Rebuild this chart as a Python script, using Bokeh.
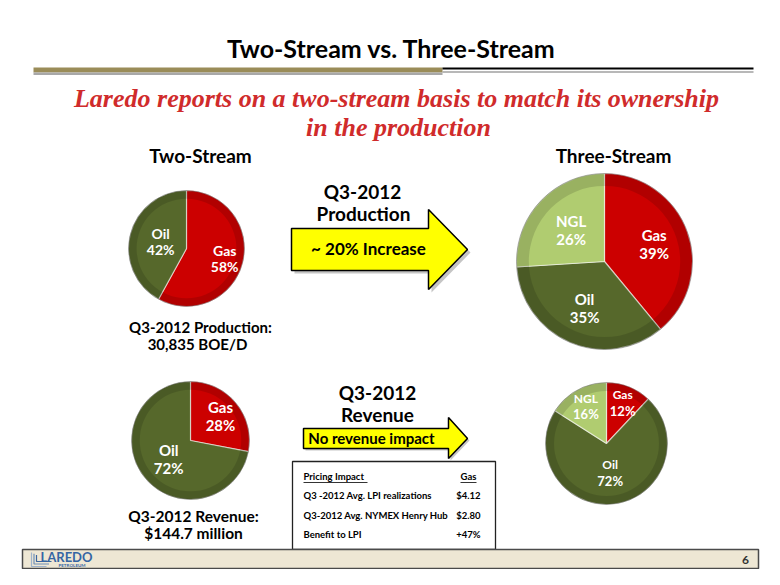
import numpy as np
from bokeh.plotting import figure
from bokeh.models import Range1d
from bokeh.embed import file_html
from bokeh.resources import INLINE
from bokeh.core.properties import value

# ---------------- data ----------------
prod_two_labels = ["Gas", "Oil"]
prod_two_values = [58, 42]
prod_three_labels = ["Gas", "Oil", "NGL"]
prod_three_values = [39, 35, 26]
rev_two_labels = ["Gas", "Oil"]
rev_two_values = [28, 72]
rev_three_labels = ["Gas", "Oil", "NGL"]
rev_three_values = [12, 72, 16]

table_header = ["Pricing Impact", "Gas"]
table_rows = ["Q3 -2012 Avg. LPI realizations", "Q3-2012 Avg. NYMEX Henry Hub", "Benefit to LPI"]
table_values = ["$4.12", "$2.80", "+47%"]

COLORS = {"Gas": "#cc0000", "Oil": "#56682b", "NGL": "#b0cc70"}
SANS = value("Lato")
SERIF = value("Liberation Serif")

W, H = 764, 569
p = figure(width=W, height=H, x_range=Range1d(0, W), y_range=Range1d(0, H),
           output_backend="svg", toolbar_location=None, min_border=0)
p.axis.visible = False
p.grid.visible = False
p.outline_line_color = None
p.background_fill_color = "white"
p.border_fill_color = "white"


def Y(sy):
    return H - sy


def txt(x, y, s, size, color="black", align="center", baseline="middle",
        font=SANS, style="bold"):
    p.text(x=[x], y=[Y(y)], text=[s], text_font=font, text_font_size=f"{size}px",
           text_font_style=style, text_color=color, text_align=align,
           text_baseline=baseline)


# ---------------- title & separator ----------------
txt(391, 47, "Two-Stream vs. Three-Stream", 25, baseline="alphabetic")
p.quad(left=33, right=442, bottom=Y(72), top=Y(67), fill_color="#9a8c58", line_color=None)
p.quad(left=33, right=442, bottom=Y(74.5), top=Y(72), fill_color="#a8a8a8", line_color=None)
p.segment(x0=442, y0=Y(68), x1=753, y1=Y(68), line_color="black", line_width=2)
p.segment(x0=442, y0=Y(71.5), x1=753, y1=Y(71.5), line_color="#a0a0a0", line_width=1.5)
txt(396, 98, "Laredo reports on a two-stream basis to match its ownership", 26,
    color="#d02b2b", baseline="alphabetic", font=SERIF, style="bold italic")
txt(398, 127, "in the production", 26, color="#d02b2b", baseline="alphabetic",
    font=SERIF, style="bold italic")


# ---------------- pies ----------------
def pie(cx, cy, r, labels, vals, name_size, pct_size, lab_r, gap):
    v = np.array(vals, dtype=float)
    frac = v / v.sum()
    cum = np.concatenate([[0.0], np.cumsum(frac)])
    start = np.pi / 2 - 2 * np.pi * cum[:-1]
    end = np.pi / 2 - 2 * np.pi * cum[1:]
    colors = [COLORS[l] for l in labels]
    p.wedge(x=cx, y=Y(cy), radius=r, start_angle=start.tolist(), end_angle=end.tolist(),
            direction="clock", fill_color=colors, line_color="white", line_alpha=0.55,
            line_width=1.2)
    p.annulus(x=cx, y=Y(cy), inner_radius=0.86 * r, outer_radius=r,
              fill_color="black", fill_alpha=0.13, line_color=None)
    p.circle(x=cx, y=Y(cy), radius=r, fill_color=None, line_color="#333333",
             line_alpha=0.35, line_width=1)
    mid = (start + end) / 2
    lr = np.array(lab_r) * r
    lx = cx + lr * np.cos(mid)
    ly = Y(cy) + lr * np.sin(mid)
    names = list(labels)
    pcts = [f"{int(x)}%" for x in vals]
    p.text(x=lx.tolist(), y=(ly + gap).tolist(), text=names, text_font=SANS,
           text_font_size=f"{name_size}px", text_font_style="bold", text_color="white",
           text_align="center", text_baseline="middle")
    p.text(x=lx.tolist(), y=(ly - gap).tolist(), text=pcts, text_font=SANS,
           text_font_size=f"{pct_size}px", text_font_style="bold", text_color="white",
           text_align="center", text_baseline="middle")


txt(200, 155, "Two-Stream", 19)
txt(613, 155, "Three-Stream", 19)

pie(186, 248, 58, prod_two_labels, prod_two_values, 14, 14, [0.68, 0.46], 8)
pie(604, 261, 88, prod_three_labels, prod_three_values, 15, 15, [0.6, 0.57, 0.52], 9)
pie(190, 440, 59, rev_two_labels, rev_two_values, 15, 15, [0.66, 0.48], 9)
pie(606, 443, 61, rev_three_labels, rev_three_values, 12, 13, [0.72, 0.48, 0.7], 8)

txt(200, 326, "Q3-2012 Production:", 15)
txt(197, 343, "30,835 BOE/D", 15)
txt(193, 515, "Q3-2012 Revenue:", 15.5)
txt(193, 532, "$144.7 million", 15.5)


# ---------------- arrows ----------------
def arrow(pts, shadow=3):
    xs = [q[0] for q in pts]
    ys = [Y(q[1]) for q in pts]
    p.patch(x=[x + shadow for x in xs], y=[y - shadow for y in ys], fill_color="#7f7f7f",
            fill_alpha=0.45, line_color=None)
    p.patch(x=xs, y=ys, fill_color="#ffff00", line_color="black", line_width=1.5)


arrow([(291, 228), (428, 228), (428, 209), (467, 249), (428, 289), (428, 270), (291, 270)])
arrow([(303, 428), (448, 428), (448, 417), (467, 438), (448, 458), (448, 448), (303, 448)], 2)

txt(362, 191, "Q3-2012", 19)
txt(363, 213, "Production", 19)
txt(368, 248, "~ 20% Increase", 17)
txt(377, 392, "Q3-2012", 19)
txt(377, 414, "Revenue", 19)
txt(371, 437, "No revenue impact", 15)

# ---------------- table ----------------
p.quad(left=292, right=495, bottom=Y(549), top=Y(461), fill_color="white",
       line_color="#222222", line_width=1.3)
row_y = [495, 515, 534]
TS = 9.5
txt(303, 476, table_header[0], TS, align="left")
txt(468, 476, table_header[1], TS)
p.segment(x0=303, y0=Y(482), x1=367, y1=Y(482), line_color="black", line_width=0.8)
p.segment(x0=460, y0=Y(482), x1=476, y1=Y(482), line_color="black", line_width=0.8)
p.text(x=[303] * 3, y=[Y(v) for v in row_y], text=table_rows, text_font=SANS,
       text_font_size=f"{TS}px", text_font_style="bold", text_align="left",
       text_baseline="middle", text_color="black")
p.text(x=[480] * 3, y=[Y(v) for v in row_y], text=table_values, text_font=SANS,
       text_font_size=f"{TS}px", text_font_style="bold", text_align="right",
       text_baseline="middle", text_color="black")

# ---------------- footer ----------------
p.quad(left=22, right=758, bottom=Y(568), top=Y(549), fill_color="#eee7d4",
       line_color="#4a4a4a", line_width=1.5)
for k, c in enumerate(["#9fb3cc", "#6e8fb8", "#3b66a0"]):
    o = k * 2.5
    p.line(x=[31 + o, 31 + o, 46 + o], y=[Y(552 + o / 2), Y(566 - o), Y(566 - o)],
           line_color=c, line_width=1.2)
txt(40, 556, "LAREDO", 13, color="#3565a4", align="left")
txt(58, 565, "PETROLEUM", 4.5, color="#3565a4", align="left")
txt(745, 559, "6", 12, color="#333333")

open("out.html", "w").write(file_html(p, INLINE))
